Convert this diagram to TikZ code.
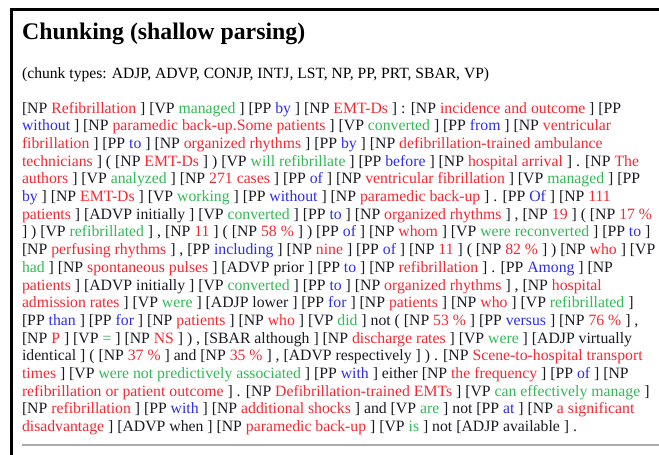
\documentclass[tikz,border=0pt]{standalone}
\usepackage{fontspec}
\setmainfont{Liberation Serif}
\definecolor{npred}{RGB}{245,40,50}
\definecolor{vpgreen}{RGB}{50,185,85}
\definecolor{ppblue}{RGB}{45,45,235}
\definecolor{tagink}{RGB}{25,25,35}
\definecolor{rulegray}{RGB}{170,170,170}
\newcommand\R[1]{{\color{npred}#1}}
\newcommand\G[1]{{\color{vpgreen}#1}}
\newcommand\B[1]{{\color{ppblue}#1}}
\tikzset{
  textline/.style={anchor=base west, inner sep=0pt, outer sep=0pt, text=tagink,
    font=\fontsize{15.75}{18}\selectfont},
  heading/.style={anchor=base west, inner sep=0pt, text=black,
    font=\fontsize{23.8}{27}\selectfont\bfseries},
  subheading/.style={anchor=base west, inner sep=0pt, text=black,
    font=\fontsize{15.6}{18}\selectfont},
}
\begin{document}
\begin{tikzpicture}[x=1pt,y=-1pt]
\useasboundingbox (0,0) rectangle (659,455);
% frame: heavy top and left edges, light rule at the bottom
\fill[black] (10,8) rectangle (659,11);
\fill[black] (10,8) rectangle (13,455);
\draw[rulegray, line width=1.5pt] (22,445) -- (659,445);

\node[heading] (title) at (22,39) {Chunking (shallow parsing)};
\node[subheading] (types) at (22,78) {(chunk types: ADJP, ADVP, CONJP, INTJ, LST, NP, PP, PRT, SBAR, VP)};

\def\lh{17.7}
\node[textline] (l1) at (22,113+0*\lh) {[NP \R{Refibrillation} ] [VP \G{managed} ] [PP \B{by} ] [NP \R{EMT-Ds} ] : [NP \R{incidence and outcome} ] [PP};
\node[textline] (l2) at (22,113+1*\lh) {\B{without} ] [NP \R{paramedic back-up.Some patients} ] [VP \G{converted} ] [PP \B{from} ] [NP \R{ventricular}};
\node[textline] (l3) at (22,113+2*\lh) {\R{fibrillation} ] [PP \B{to} ] [NP \R{organized rhythms} ] [PP \B{by} ] [NP \R{defibrillation-trained ambulance}};
\node[textline] (l4) at (22,113+3*\lh) {\R{technicians} ] ( [NP \R{EMT-Ds} ] ) [VP \G{will refibrillate} ] [PP \B{before} ] [NP \R{hospital arrival} ] . [NP \R{The}};
\node[textline] (l5) at (22,113+4*\lh) {\R{authors} ] [VP \G{analyzed} ] [NP \R{271 cases} ] [PP \B{of} ] [NP \R{ventricular fibrillation} ] [VP \G{managed} ] [PP};
\node[textline] (l6) at (22,113+5*\lh) {\B{by} ] [NP \R{EMT-Ds} ] [VP \G{working} ] [PP \B{without} ] [NP \R{paramedic back-up} ] . [PP \B{Of} ] [NP \R{111}};
\node[textline] (l7) at (22,113+6*\lh) {\R{patients} ] [ADVP initially ] [VP \G{converted} ] [PP \B{to} ] [NP \R{organized rhythms} ] , [NP \R{19} ] ( [NP \R{17 \%}};
\node[textline] (l8) at (22,113+7*\lh) {] ) [VP \G{refibrillated} ] , [NP \R{11} ] ( [NP \R{58 \%} ] ) [PP \B{of} ] [NP \R{whom} ] [VP \G{were reconverted} ] [PP \B{to} ]};
\node[textline] (l9) at (22,113+8*\lh) {[NP \R{perfusing rhythms} ] , [PP \B{including} ] [NP \R{nine} ] [PP \B{of} ] [NP \R{11} ] ( [NP \R{82 \%} ] ) [NP \R{who} ] [VP};
\node[textline] (l10) at (22,113+9*\lh) {\G{had} ] [NP \R{spontaneous pulses} ] [ADVP prior ] [PP \B{to} ] [NP \R{refibrillation} ] . [PP \B{Among} ] [NP};
\node[textline] (l11) at (22,113+10*\lh) {\R{patients} ] [ADVP initially ] [VP \G{converted} ] [PP \B{to} ] [NP \R{organized rhythms} ] , [NP \R{hospital}};
\node[textline] (l12) at (22,113+11*\lh) {\R{admission rates} ] [VP \G{were} ] [ADJP lower ] [PP \B{for} ] [NP \R{patients} ] [NP \R{who} ] [VP \G{refibrillated} ]};
\node[textline] (l13) at (22,113+12*\lh) {[PP \B{than} ] [PP \B{for} ] [NP \R{patients} ] [NP \R{who} ] [VP \G{did} ] not ( [NP \R{53 \%} ] [PP \B{versus} ] [NP \R{76 \%} ] ,};
\node[textline] (l14) at (22,113+13*\lh) {[NP \R{P} ] [VP \G{=} ] [NP \R{NS} ] ) , [SBAR although ] [NP \R{discharge rates} ] [VP \G{were} ] [ADJP virtually};
\node[textline] (l15) at (22,113+14*\lh) {identical ] ( [NP \R{37 \%} ] and [NP \R{35 \%} ] , [ADVP respectively ] ) . [NP \R{Scene-to-hospital transport}};
\node[textline] (l16) at (22,113+15*\lh) {\R{times} ] [VP \G{were not predictively associated} ] [PP \B{with} ] either [NP \R{the frequency} ] [PP \B{of} ] [NP};
\node[textline] (l17) at (22,113+16*\lh) {\R{refibrillation or patient outcome} ] . [NP \R{Defibrillation-trained EMTs} ] [VP \G{can effectively manage} ]};
\node[textline] (l18) at (22,113+17*\lh) {[NP \R{refibrillation} ] [PP \B{with} ] [NP \R{additional shocks} ] and [VP \G{are} ] not [PP \B{at} ] [NP \R{a significant}};
\node[textline] (l19) at (22,113+18*\lh) {\R{disadvantage} ] [ADVP when ] [NP \R{paramedic back-up} ] [VP \G{is} ] not [ADJP available ] .};
\end{tikzpicture}
\end{document}
